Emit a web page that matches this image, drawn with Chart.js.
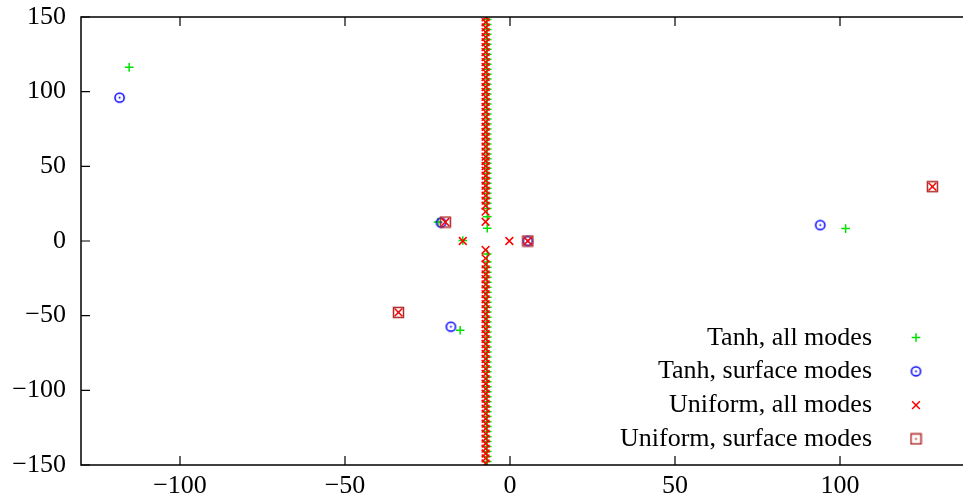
<!DOCTYPE html>
<html lang="en">
<head>
  <meta charset="UTF-8">
  <title>Spectrum</title>
  <script src="https://cdn.jsdelivr.net/npm/chart.js"></script>
  <style>
    html, body { margin: 0; padding: 0; background: #fff; }
    #wrap { width: 963px; height: 497px; }
  </style>
</head>
<body>
  <div id="wrap"><canvas id="spectrum"></canvas></div>

  <script>
    // ticks
    const xTicks = [-100, -50, 0, 50, 100];
    const yTicks = [-150, -100, -50, 0, 50, 100, 150];

    const labels = ['Tanh, all modes', 'Tanh, surface modes', 'Uniform, all modes', 'Uniform, surface modes'];

    // isolated eigenvalues
    const tanhAllX = [-115.4, -21.8, -14.3, -15.1, 101.7];
    const tanhAllY = [116.3, 12.7, 0.3, -59.8, 8.3];
    const tanhSurfX = [-118.3, -20.9, 5.4, -17.9, 94.0];
    const tanhSurfY = [96.0, 12.3, 0.0, -57.4, 10.7];
    const unifAllX = [-19.6, -14.3, -0.2, 5.4, -33.8, 128.0];
    const unifAllY = [12.7, 0.0, 0.0, 0.0, -47.8, 36.4];
    const unifSurfX = [-19.6, 5.4, -33.8, 128.0];
    const unifSurfY = [12.7, 0.0, -47.8, 36.4];

    // continuous spectrum (vertical column near Re = -7)
    const tanhColX = -6.9;
    const tanhColY = [8.5, 16.3, 21.8, 25.3, 28.7, 32.0, 35.4, 38.7, 42.1, 45.4, 48.7, 52.0, 55.1, 58.3,
      61.6, 65.0, 68.3, 71.7, 75.0, 78.4, 81.7, 85.0, 88.3, 91.7, 95.0, 98.4, 101.7, 105.0, 108.4, 111.7,
      115.0, 118.4, 121.7, 125.0, 128.4, 131.7, 135.0, 138.4, 141.7, 145.0, 148.4, 151.7,
      -8.7, -14.0, -17.5, -20.9, -24.3, -27.6, -31.0, -34.3, -37.6, -41.0, -44.3, -47.6, -51.0, -54.3,
      -57.6, -61.0, -64.3, -67.6, -71.0, -74.3, -77.6, -81.0, -84.3, -87.6, -91.0, -94.3, -97.6, -101.0,
      -104.3, -107.6, -111.0, -114.3, -117.6, -121.0, -124.3, -127.6, -131.0, -134.3, -137.6, -141.0,
      -144.3, -147.6, -151.0];
    const unifColX = -7.4;
    const unifColY = [12.9, 19.7, 23.7, 27.0, 30.4, 33.7, 37.0, 40.4, 43.7, 47.1, 50.2, 53.6, 56.5, 59.8,
      63.2, 66.5, 69.8, 73.1, 76.5, 79.8, 83.1, 86.5, 89.8, 93.1, 96.5, 99.8, 103.1, 106.5, 109.8, 113.1,
      116.5, 119.8, 123.1, 126.5, 129.8, 133.1, 136.5, 139.8, 143.1, 146.5, 149.8,
      -6.0, -11.6, -15.6, -19.0, -22.3, -25.6, -29.0, -32.3, -35.6, -39.0, -42.3, -45.6, -49.0, -52.3,
      -55.6, -59.0, -62.3, -65.6, -69.0, -72.3, -75.6, -79.0, -82.3, -85.6, -89.0, -92.3, -95.6, -99.0,
      -102.3, -105.6, -109.0, -112.3, -115.6, -119.0, -122.3, -125.6, -129.0, -132.3, -135.6, -139.0,
      -142.3, -145.6, -149.0];

    const FONT = '"Liberation Serif", "Times New Roman", serif';
    Chart.defaults.color = '#000';
    Chart.defaults.font.family = FONT;
    Chart.defaults.font.size = 26;

    function pts(xs, ys) {
      return xs.map((x, i) => ({ x: x, y: ys[i] }));
    }
    function col(x, ys) {
      return ys.map(y => ({ x: x, y: y }));
    }

    // marker images with a centre dot (gnuplot style)
    function dottedMarker(shape, color) {
      const c = document.createElement('canvas');
      c.width = 13; c.height = 13;
      const g = c.getContext('2d');
      g.strokeStyle = color;
      g.fillStyle = color;
      g.lineWidth = 1.5;
      g.beginPath();
      if (shape === 'circle') g.arc(6.5, 6.5, 4.6, 0, Math.PI * 2);
      else g.rect(1.5, 1.5, 10, 10);
      g.stroke();
      g.beginPath();
      g.arc(6.5, 6.5, 1.0, 0, Math.PI * 2);
      g.fill();
      return c;
    }
    const circleDot = dottedMarker('circle', '#0000ff');
    const squareDot = dottedMarker('square', '#b02828');

    const ctx = document.getElementById('spectrum').getContext('2d');

    const datasets = [
      { label: labels[0], data: pts(tanhAllX, tanhAllY).concat(col(tanhColX, tanhColY)),
        pointStyle: 'cross', pointRadius: 4.3, borderColor: '#00e000', borderWidth: 1.5, order: 4 },
      { label: labels[1], data: pts(tanhSurfX, tanhSurfY),
        pointStyle: circleDot, pointRadius: 5, borderColor: '#0000ff', order: 3 },
      { label: labels[2], data: pts(unifAllX, unifAllY).concat(col(unifColX, unifColY)),
        pointStyle: 'crossRot', pointRadius: 5.5, borderColor: '#ff0000', borderWidth: 1.5, order: 2 },
      { label: labels[3], data: pts(unifSurfX, unifSurfY),
        pointStyle: squareDot, pointRadius: 5, borderColor: '#b02828', order: 1 }
    ];

    // frame, inward ticks and right-aligned key
    const gnuFrame = {
      id: 'gnuFrame',
      afterDraw(chart) {
        const a = chart.chartArea;
        const c = chart.ctx;
        const xs = chart.scales.x, ys = chart.scales.y;
        c.save();
        c.strokeStyle = '#000';
        c.lineWidth = 1.5;
        c.beginPath();
        c.moveTo(a.right + 2, a.top); c.lineTo(a.left, a.top);
        c.lineTo(a.left, a.bottom); c.lineTo(a.right + 2, a.bottom);
        c.stroke();
        c.lineWidth = 1.2;
        c.beginPath();
        xTicks.forEach(v => {
          const p = xs.getPixelForValue(v);
          c.moveTo(p, a.bottom); c.lineTo(p, a.bottom - 9);
          c.moveTo(p, a.top); c.lineTo(p, a.top + 9);
        });
        yTicks.forEach(v => {
          const p = ys.getPixelForValue(v);
          c.moveTo(a.left, p); c.lineTo(a.left + 9, p);
        });
        c.stroke();

        c.font = '26px ' + FONT;
        c.textAlign = 'right';
        c.textBaseline = 'alphabetic';
        chart.data.datasets.forEach((ds, i) => {
          const base = 344.5 + i * 33.8;
          c.fillStyle = '#000';
          c.fillText(ds.label, 872, base);
          c.strokeStyle = ds.borderColor;
          c.lineWidth = ds.borderWidth || 1;
          Chart.helpers.drawPoint(c, {
            pointStyle: ds.pointStyle, radius: ds.pointRadius, rotation: 0,
            borderWidth: ds.borderWidth || 1
          }, 916, base - 7);
        });
        c.restore();
      }
    };

    const spectrumChart = new Chart(ctx, {
      type: 'scatter',
      data: { datasets: datasets },
      options: {
        responsive: true,
        maintainAspectRatio: false,
        animation: false,
        layout: { autoPadding: false, padding: { top: 17, right: 0, left: 0, bottom: 0 } },
        plugins: {
          legend: { display: false },
          tooltip: { enabled: false }
        },
        scales: {
          x: {
            type: 'linear',
            min: -130,
            max: 137.27,
            afterBuildTicks: s => { s.ticks = xTicks.map(v => ({ value: v })); },
            afterFit: s => { s.height = 32; s.paddingLeft = 0; s.paddingRight = 0; },
            grid: { display: false, drawTicks: false },
            border: { display: false },
            ticks: {
              padding: 6,
              maxRotation: 0,
              callback: v => String(v).replace('-', '\u2212')
            }
          },
          y: {
            type: 'linear',
            min: -150,
            max: 150,
            afterBuildTicks: s => { s.ticks = yTicks.map(v => ({ value: v })); },
            afterFit: s => { s.width = 81; s.paddingTop = 0; s.paddingBottom = 0; },
            grid: { display: false, drawTicks: false },
            border: { display: false },
            ticks: {
              padding: 15,
              callback: v => String(v).replace('-', '\u2212')
            }
          }
        }
      },
      plugins: [gnuFrame]
    });
  </script>
</body>
</html>
